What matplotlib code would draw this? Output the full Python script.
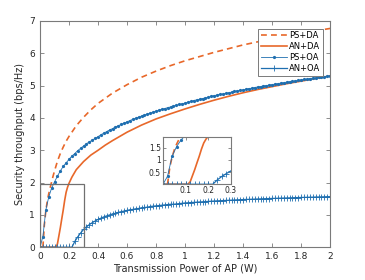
import numpy as np
import matplotlib
matplotlib.use("Agg")
import matplotlib.pyplot as plt
from matplotlib.patches import Rectangle

# power grid for the curves with markers (step 0.02 W)
p = np.linspace(0, 2, 101)

# PS+OA (dots)
ps_oa = [0, 0.33, 1.15, 1.55, 1.83, 2.02, 2.20, 2.36, 2.50, 2.61,
         2.72, 2.82, 2.90, 2.99, 3.06, 3.13, 3.20, 3.26, 3.31, 3.37,
         3.42, 3.48, 3.53, 3.58, 3.63, 3.67, 3.72, 3.76, 3.80, 3.84,
         3.88, 3.92, 3.96, 3.99, 4.03, 4.06, 4.09, 4.12, 4.15, 4.18,
         4.21, 4.24, 4.27, 4.29, 4.32, 4.34, 4.37, 4.39, 4.42, 4.44,
         4.46, 4.49, 4.51, 4.54, 4.56, 4.58, 4.60, 4.62, 4.64, 4.67,
         4.69, 4.71, 4.73, 4.74, 4.76, 4.78, 4.80, 4.82, 4.84, 4.85,
         4.87, 4.89, 4.91, 4.92, 4.94, 4.96, 4.97, 4.99, 5.00, 5.02,
         5.03, 5.05, 5.06, 5.08, 5.09, 5.11, 5.12, 5.13, 5.15, 5.16,
         5.18, 5.19, 5.20, 5.22, 5.23, 5.24, 5.26, 5.27, 5.28, 5.29,
         5.30]

# AN+OA (plus signs)
an_oa = [0, 0, 0, 0, 0, 0, 0, 0, 0, 0,
         0, 0, 0.18, 0.32, 0.44, 0.55, 0.63, 0.70, 0.76, 0.81,
         0.86, 0.90, 0.94, 0.97, 1.00, 1.03, 1.05, 1.08, 1.10, 1.12,
         1.14, 1.16, 1.17, 1.19, 1.20, 1.22, 1.23, 1.24, 1.26, 1.27,
         1.28, 1.29, 1.30, 1.31, 1.32, 1.33, 1.33, 1.34, 1.35, 1.36,
         1.37, 1.376, 1.382, 1.388, 1.394, 1.40, 1.406, 1.412, 1.418, 1.424,
         1.43, 1.435, 1.439, 1.444, 1.448, 1.453, 1.457, 1.462, 1.466, 1.471,
         1.475, 1.479, 1.482, 1.486, 1.489, 1.493, 1.496, 1.50, 1.503, 1.507,
         1.51, 1.513, 1.516, 1.519, 1.522, 1.525, 1.528, 1.531, 1.534, 1.537,
         1.54, 1.543, 1.545, 1.548, 1.55, 1.553, 1.555, 1.558, 1.56, 1.563,
         1.565]

# PS+DA (dashed)
pda_x = [0.02, 0.03, 0.04, 0.05, 0.06, 0.07, 0.08, 0.09, 0.10, 0.12,
         0.14, 0.16, 0.18, 0.20, 0.25, 0.30, 0.35, 0.40, 0.50, 0.60,
         0.70, 0.80, 0.90, 1.00, 1.20, 1.40, 1.60, 1.80, 2.00]
pda_y = [0.0, 0.7, 1.12, 1.42, 1.65, 1.84, 2.02, 2.2, 2.36, 2.66,
         2.9, 3.1, 3.28, 3.43, 3.76, 4.02, 4.25, 4.45, 4.77, 5.03,
         5.26, 5.45, 5.62, 5.77, 6.03, 6.26, 6.45, 6.62, 6.77]

# AN+DA (solid)
ada_x = [0, 0.11, 0.12, 0.13, 0.14, 0.15, 0.16, 0.17, 0.18, 0.19,
         0.20, 0.22, 0.25, 0.30, 0.35, 0.40, 0.45, 0.50, 0.60, 0.70,
         0.80, 0.90, 1.00, 1.10, 1.20, 1.30, 1.40, 1.50, 1.60, 1.70,
         1.80, 1.90, 2.00]
ada_y = [0, 0, 0.1, 0.35, 0.6, 0.88, 1.15, 1.45, 1.7, 1.86,
         1.98, 2.17, 2.4, 2.65, 2.85, 3.0, 3.16, 3.3, 3.56, 3.78,
         3.97, 4.13, 4.28, 4.42, 4.55, 4.67, 4.78, 4.88, 4.97, 5.06,
         5.14, 5.22, 5.30]

orange = '#E8682A'
blue = '#1f6fb0'
box_col = '#7a7a7a'


def draw_curves(ax):
    ax.plot(pda_x, pda_y, color=orange, lw=1.2, dashes=(3.5, 2.5), label='PS+DA')
    ax.plot(ada_x, ada_y, color=orange, lw=1.2, label='AN+DA')
    ax.plot(p, ps_oa, color=blue, lw=0.6, marker='.', ms=2.6, label='PS+OA')
    ax.plot(p, an_oa, color=blue, lw=0.9, marker='+', ms=4, mew=0.6, label='AN+OA')


def style_axes(ax, size):
    for s in ax.spines.values():
        s.set_color(box_col)
        s.set_linewidth(0.8)
    ax.tick_params(direction='in', top=True, right=True, labelsize=size,
                   labelcolor='#262626', color=box_col, length=3, width=0.6)


fig = plt.figure(figsize=(3.65, 2.8), dpi=100)
ax = fig.add_axes([0.1096, 0.117, 0.795, 0.808])
draw_curves(ax)
ax.set_xlim(0, 2)
ax.set_ylim(0, 7)
ax.set_xticks(np.arange(0, 2.01, 0.2))
ax.set_xticklabels(['0', '0.2', '0.4', '0.6', '0.8', '1', '1.2', '1.4', '1.6', '1.8', '2'])
ax.set_yticks(range(8))
style_axes(ax, 6.5)
ax.set_xlabel('Transmission Power of AP (W)', fontsize=7, color='#262626', labelpad=2)
ax.set_ylabel('Security throughput (bps/Hz)', fontsize=7, color='#262626', labelpad=3)

# zoom box on the main axes
ax.add_patch(Rectangle((0, 0), 0.3, 1.95, fill=False, edgecolor='#707070', lw=0.9, zorder=5))

leg = ax.legend(loc='upper right', fontsize=6, frameon=True, fancybox=False,
                edgecolor=box_col, framealpha=1, borderpad=0.3, labelspacing=0.25,
                handlelength=3.2, handletextpad=0.2, borderaxespad=0.9)
leg.get_frame().set_linewidth(0.7)

# inset
ins = fig.add_axes([0.4466, 0.342, 0.186, 0.169])
draw_curves(ins)
ins.set_xlim(0, 0.3)
ins.set_ylim(0, 1.95)
ins.set_xticks([0.1, 0.2, 0.3])
ins.set_xticklabels(['0.1', '0.2', '0.3'])
ins.set_yticks([0.5, 1, 1.5])
ins.set_yticklabels(['0.5', '1', '1.5'])
style_axes(ins, 5.5)
ins.tick_params(length=2, pad=1.5)

fig.savefig('out.png', dpi=100)
